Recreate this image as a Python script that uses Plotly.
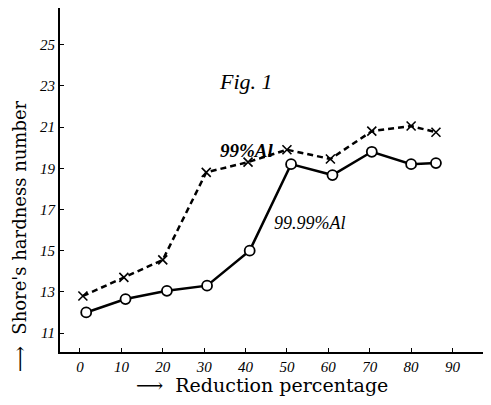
import plotly.graph_objects as go

# 99.99% Al (circles, solid)
x_pure = [1.5, 11, 21, 30.7, 41, 51, 61, 70.5, 80, 86]
y_pure = [12.0, 12.65, 13.05, 13.3, 15.0, 19.2, 18.67, 19.8, 19.2, 19.25]

# 99% Al (crosses, dashed)
x_com = [0.7, 10.6, 20, 30.5, 40.6, 50, 60.5, 70.5, 80, 86]
y_com = [12.8, 13.7, 14.55, 18.8, 19.3, 19.9, 19.45, 20.8, 21.05, 20.75]

x_ticks = [0, 10, 20, 30, 40, 50, 60, 70, 80, 90]
y_ticks = [11, 13, 15, 17, 19, 21, 23, 25]

fig = go.Figure()
fig.add_trace(go.Scatter(
    x=x_com, y=y_com, mode="lines+markers",
    line=dict(color="black", width=2.5, dash="6px,4px"),
    marker=dict(symbol="x-thin", size=9, line=dict(color="black", width=1.6)),
    showlegend=False))
fig.add_trace(go.Scatter(
    x=x_pure, y=y_pure, mode="lines+markers",
    line=dict(color="black", width=2.5),
    marker=dict(symbol="circle", size=10, color="white",
                line=dict(color="black", width=1.8)),
    showlegend=False))

tickfont = dict(family="Liberation Serif", size=15, color="black", style="italic")
fig.update_xaxes(range=[-4.83, 99.3], tickvals=x_ticks, showgrid=False, zeroline=False,
                 showline=True, linecolor="black", linewidth=1.5,
                 ticks="inside", ticklen=4, tickcolor="black", tickfont=tickfont)
fig.update_yaxes(range=[10.08, 26.78], tickvals=y_ticks, showgrid=False, zeroline=False,
                 showline=True, linecolor="black", linewidth=2,
                 ticks="inside", ticklen=4, tickcolor="black", tickfont=tickfont)

hand = "Liberation Serif"
serif = "DejaVu Serif"
fig.add_annotation(x=40, y=23.2, text="Fig. 1", showarrow=False,
                   font=dict(family=hand, size=22, color="black", style="italic"))
fig.add_annotation(x=40.3, y=19.85, text="<b>99%Al</b>", showarrow=False,
                   font=dict(family=hand, size=19, color="black", style="italic"))
fig.add_annotation(x=55.5, y=16.35, text="99.99%Al", showarrow=False,
                   font=dict(family=hand, size=18, color="black", style="italic"))
fig.add_annotation(xref="paper", yref="paper", x=0.469, y=-0.097,
                   xanchor="center", yanchor="middle",
                   text="⟶  Reduction percentage", showarrow=False,
                   font=dict(family=serif, size=19, color="black"))
fig.add_annotation(xref="paper", yref="paper", x=-0.0955, y=0.337,
                   xanchor="center", yanchor="middle",
                   text="⟶  Shore's hardness number", showarrow=False, textangle=-90,
                   font=dict(family=serif, size=18, color="black"))

fig.update_layout(width=483, height=397, margin=dict(l=52, r=0, t=0, b=53),
                  plot_bgcolor="white", paper_bgcolor="white")
fig.write_html("out.html")
